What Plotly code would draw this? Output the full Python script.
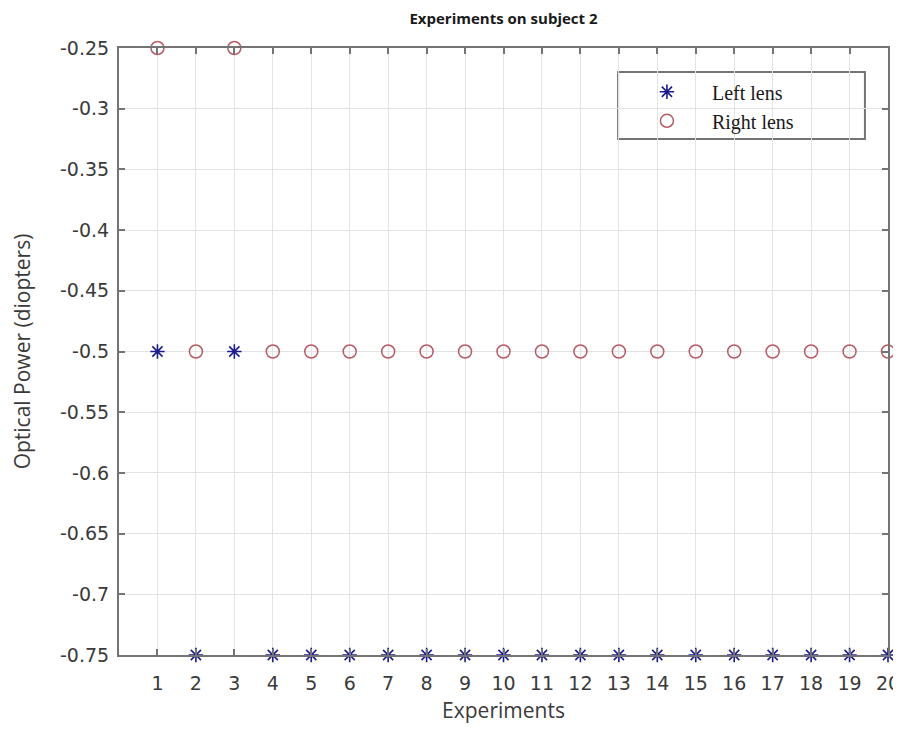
import plotly.graph_objects as go

experiments = list(range(1, 21))
left_lens = [-0.5, -0.75, -0.5] + [-0.75] * 17
right_lens = [-0.25, -0.5, -0.25] + [-0.5] * 17
y_ticks = [-0.75, -0.7, -0.65, -0.6, -0.55, -0.5, -0.45, -0.4, -0.35, -0.3, -0.25]
y_tick_labels = ["-0.75", "-0.7", "-0.65", "-0.6", "-0.55", "-0.5", "-0.45", "-0.4", "-0.35", "-0.3", "-0.25"]

fig = go.Figure()
fig.add_trace(go.Scatter(
    x=experiments, y=left_lens, mode="markers", name="Left lens",
    marker=dict(symbol="asterisk", size=12, color="#1c1c8c",
                line=dict(color="#1c1c8c", width=1.6)),
    cliponaxis=False))
fig.add_trace(go.Scatter(
    x=experiments, y=right_lens, mode="markers", name="Right lens",
    marker=dict(symbol="circle-open", size=13, color="#b85a66",
                line=dict(color="#b85a66", width=1.5)),
    cliponaxis=False))

axis_common = dict(showline=True, linecolor="#747474", linewidth=2, mirror="ticks",
                   ticks="inside", ticklen=6, tickcolor="#747474", tickwidth=1.5,
                   showgrid=True, gridcolor="#e3e3e3", gridwidth=1, zeroline=False,
                   automargin=False,
                   tickfont=dict(family="DejaVu Sans", size=19, color="#3a3a3a"))

title_font = dict(family="Open Sans, Liberation Sans", size=21, color="#3a3a3a")

fig.update_layout(
    width=893, height=716,
    paper_bgcolor="white", plot_bgcolor="white",
    margin=dict(l=111, r=13, t=40, b=69),
    title=dict(text="<b>Experiments on subject 2</b>", xref="paper", x=0.5, xanchor="center",
               yref="container", y=0.985, yanchor="middle",
               font=dict(family="Open Sans, Liberation Sans", size=15, color="#1a1a1a")),
    xaxis=dict(range=[0, 20], tickvals=experiments, ticktext=[str(v) for v in experiments],
               ticklabelstandoff=10,
               title=dict(text="Experiments", standoff=16, font=title_font),
               **axis_common),
    yaxis=dict(range=[-0.75, -0.25], tickvals=y_ticks, ticktext=y_tick_labels,
               ticklabelstandoff=4,
               title=dict(text="Optical Power (diopters)", standoff=30, font=title_font),
               **axis_common),
    legend=dict(x=0.654, y=0.96, xanchor="left", yanchor="top",
                bgcolor="rgba(0,0,0,0)", borderwidth=0,
                font=dict(family="Liberation Serif, Times New Roman", size=20, color="#1a1a1a"),
                itemwidth=80, tracegroupgap=0),
    shapes=[dict(type="rect", xref="paper", yref="paper",
                 x0=0.649, x1=0.970, y0=0.850, y1=0.9605,
                 line=dict(color="#747474", width=2), fillcolor="white", layer="between")],
    showlegend=True,
)

fig.write_html("out.html")
